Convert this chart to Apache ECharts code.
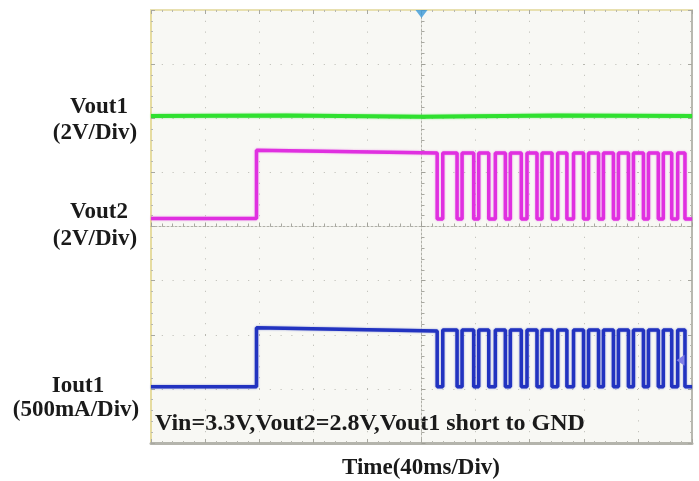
<!DOCTYPE html>
<html>
<head>
<meta charset="utf-8">
<script src="https://cdn.jsdelivr.net/npm/echarts@6/dist/echarts.min.js"></script>
<style>
html, body { margin: 0; padding: 0; background: #ffffff; }
#main { width: 699px; height: 481px; }
</style>
</head>
<body>
<div id="main"></div>
<script>
// time in ms relative to trigger (40ms/div), levels in scope divisions (-4..4)
var stepUpTime = -122;
var pulseFalls = [11.6, 26.3, 38.6, 49.7, 62.0, 73.8, 85.4, 96.5, 107.5, 119.8, 130.9, 141.9, 153.0, 164.1, 175.1, 185.0, 194.8];
var pulseRises = [15.7, 30.0, 42.3, 54.6, 65.7, 78.0, 89.1, 100.7, 112.4, 123.5, 134.5, 145.6, 156.7, 167.8, 178.8, 189.4];

var vout1Level = [2.04, 2.05, 2.03, 2.05, 2.04];
var vout1Times = [-200, -100, 0, 100, 200];

// [initial low, high at step, high before pulses, pulse high, pulse low]
var vout2Levels = [0.15, 1.41, 1.36, 1.36, 0.14];
var iout1Levels = [-2.96, -1.87, -1.93, -1.91, -2.96];

var labels = ['Vout1', '(2V/Div)', 'Vout2', '(2V/Div)', 'Iout1', '(500mA/Div)'];
var noteText = 'Vin=3.3V,Vout2=2.8V,Vout1 short to GND';
var xName = 'Time(40ms/Div)';

function buildWave(lv) {
	var d = [];
	d.push([-200, lv[0]]);
	d.push([stepUpTime, lv[0]]);
	d.push([stepUpTime, lv[1]]);
	d.push([pulseFalls[0], lv[2]]);
	d.push([pulseFalls[0], lv[4]]);
	for (var i = 0; i < pulseRises.length; i++) {
		d.push([pulseRises[i], lv[4]]);
		d.push([pulseRises[i], lv[3]]);
		d.push([pulseFalls[i + 1], lv[3]]);
		d.push([pulseFalls[i + 1], lv[4]]);
	}
	d.push([200, lv[4]]);
	return d;
}

var vout1Data = [];
for (var i = 0; i < vout1Times.length; i++) {
	vout1Data.push([vout1Times[i], vout1Level[i]]);
}

var myChart = echarts.init(document.getElementById('main'));
var serif = '"Liberation Serif", "DejaVu Serif", serif';

function borderAxis(pos, lineColor, lineWidth) {
	return {
		type: 'value', min: -200, max: 200, interval: 40,
		position: pos,
		axisLine: { show: true, onZero: false, lineStyle: { color: lineColor, width: lineWidth } },
		axisTick: { show: true, inside: true, length: 4, lineStyle: { color: '#a8a8a0' } },
		minorTick: { show: true, splitNumber: 5, length: 2, lineStyle: { color: '#b8b8b0' } },
		axisLabel: { show: false },
		splitLine: { show: false }
	};
}
function borderAxisY(pos, lineColor, lineWidth) {
	return {
		type: 'value', min: -4, max: 4, interval: 1,
		position: pos,
		axisLine: { show: true, onZero: false, lineStyle: { color: lineColor, width: lineWidth } },
		axisTick: { show: true, inside: true, length: 4, lineStyle: { color: '#a8a8a0' } },
		minorTick: { show: true, splitNumber: 5, length: 2, lineStyle: { color: '#b8b8b0' } },
		axisLabel: { show: false },
		splitLine: { show: false }
	};
}

var option = {
	animation: false,
	backgroundColor: '#ffffff',
	grid: {
		left: 151, right: 7, top: 10, bottom: 38,
		show: true,
		backgroundColor: '#f8f8f4',
		borderColor: '#dcd8c0',
		borderWidth: 1
	},
	xAxis: [
		{
			type: 'value', min: -200, max: 200, interval: 40,
			axisLine: { show: true, onZero: true, lineStyle: { color: '#b0b0a8', type: [2, 2] } },
			axisTick: { show: true, inside: true, length: 4, lineStyle: { color: '#a0a098' } },
			minorTick: { show: true, splitNumber: 5, length: 3, lineStyle: { color: '#a8a8a0' } },
			axisLabel: { show: false },
			splitLine: { show: true, lineStyle: { color: '#b8b8b0', width: 1, type: [1, 9.8] } }
		},
		borderAxis('top', '#e8e0b0', 2),
		borderAxis('bottom', '#b4b4ac', 3)
	],
	yAxis: [
		{
			type: 'value', min: -4, max: 4, interval: 1,
			axisLine: { show: true, onZero: true, lineStyle: { color: '#b0b0a8', type: [2, 2] } },
			axisTick: { show: true, inside: true, length: 4, lineStyle: { color: '#a0a098' } },
			minorTick: { show: true, splitNumber: 5, length: 3, lineStyle: { color: '#a8a8a0' } },
			axisLabel: { show: false },
			splitLine: { show: true, lineStyle: { color: '#b8b8b0', width: 1, type: [1, 9.8] } }
		},
		borderAxisY('left', '#e6dca0', 2),
		borderAxisY('right', '#b8b8b0', 2)
	],
	series: [
		{
			name: 'Vout1', type: 'line', showSymbol: false, silent: true,
			lineStyle: { color: '#2fe02f', width: 4, shadowColor: 'rgba(47,224,47,0.6)', shadowBlur: 2 },
			data: vout1Data
		},
		{
			name: 'Vout2', type: 'line', showSymbol: false, silent: true,
			lineStyle: { color: '#e030e0', width: 3.5, shadowColor: 'rgba(224,48,224,0.5)', shadowBlur: 2 },
			data: buildWave(vout2Levels)
		},
		{
			name: 'Iout1', type: 'line', showSymbol: false, silent: true,
			lineStyle: { color: '#2233c0', width: 3.5, shadowColor: 'rgba(34,51,192,0.5)', shadowBlur: 2 },
			data: buildWave(iout1Levels)
		},
		{
			// trigger position marker
			type: 'scatter', silent: true, clip: false, z: 10,
			symbol: 'triangle', symbolSize: [12, 8], symbolRotate: 180, symbolOffset: [0, 4],
			itemStyle: { color: '#3a98d8' },
			data: [[0, 4]]
		},
		{
			// channel reference arrow on the right
			type: 'scatter', silent: true, clip: false, z: 10,
			symbol: 'triangle', symbolSize: [11, 8], symbolRotate: 90,
			itemStyle: { color: '#8080e6', opacity: 1 },
			data: [[191.5, -2.47]]
		}
	],
	graphic: [
		{ type: 'text', x: 99, y: 107, style: { text: labels[0], font: 'bold 23px ' + serif, fill: '#1a1a1a', align: 'center', verticalAlign: 'middle' } },
		{ type: 'text', x: 95, y: 133, style: { text: labels[1], font: 'bold 23px ' + serif, fill: '#1a1a1a', align: 'center', verticalAlign: 'middle' } },
		{ type: 'text', x: 99, y: 212, style: { text: labels[2], font: 'bold 23px ' + serif, fill: '#1a1a1a', align: 'center', verticalAlign: 'middle' } },
		{ type: 'text', x: 95, y: 239, style: { text: labels[3], font: 'bold 23px ' + serif, fill: '#1a1a1a', align: 'center', verticalAlign: 'middle' } },
		{ type: 'text', x: 78, y: 386, style: { text: labels[4], font: 'bold 23px ' + serif, fill: '#1a1a1a', align: 'center', verticalAlign: 'middle' } },
		{ type: 'text', x: 76, y: 410, style: { text: labels[5], font: 'bold 23px ' + serif, fill: '#1a1a1a', align: 'center', verticalAlign: 'middle' } },
		{ type: 'text', x: 155, y: 424, style: { text: noteText, font: 'bold 24px ' + serif, fill: '#1a1a1a', align: 'left', verticalAlign: 'middle' } },
		{ type: 'text', x: 421, y: 468, style: { text: xName, font: 'bold 23px ' + serif, fill: '#1a1a1a', align: 'center', verticalAlign: 'middle' } }
	]
};
myChart.setOption(option);
</script>
</body>
</html>
